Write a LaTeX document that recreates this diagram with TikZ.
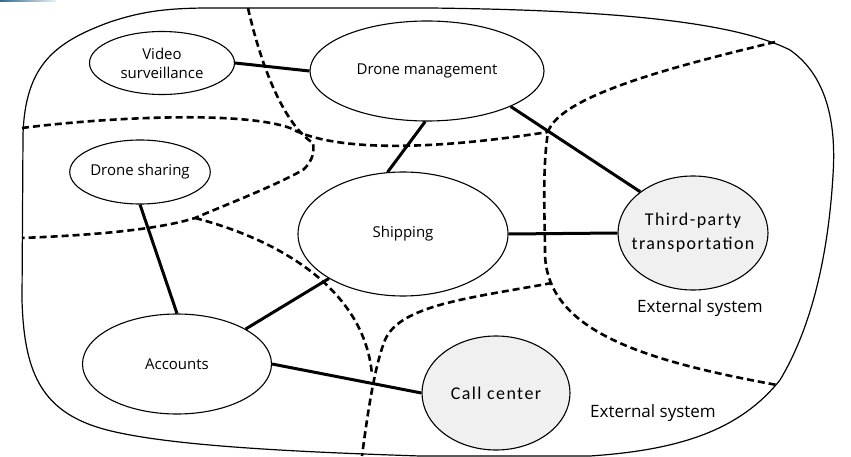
\documentclass[tikz,border=0pt]{standalone}
\usepackage{fontspec}
\setmainfont{Open Sans}
\newfontfamily\extfont[LetterSpace=8]{Carlito}
\usetikzlibrary{shapes.geometric}
\definecolor{extfill}{HTML}{F0F0F0}
\definecolor{barblue}{HTML}{2F6B8F}
\tikzset{
  svc/.style={draw, ellipse, line width=1.1pt, inner sep=0pt, align=center,
    font=\fontsize{15}{19}\selectfont},
  extsvc/.style={svc, fill=extfill},
  exttxt/.style={inner sep=0pt, align=center, font=\extfont\fontsize{18}{24}\selectfont},
  link/.style={line width=3pt},
  bound/.style={line width=2.6pt, dash pattern=on 7pt off 4pt},
  lbl/.style={inner sep=0pt, font=\fontsize{17}{20}\selectfont},
}
\begin{document}
\begin{tikzpicture}[x=1pt,y=-1pt]
\useasboundingbox (0,0) rectangle (851,457);
\shade[left color=barblue, right color=barblue!10] (0,0) rectangle (56,2);
% outer boundary
\draw[line width=1.2pt] (22,300) -- (23,135)
  .. controls (25,65) and (55,42) .. (110,22)
  .. controls (140,12) and (165,8) .. (210,8) -- (430,8)
  .. controls (600,10) and (730,20) .. (790,50)
  .. controls (830,78) and (836,130) .. (833,175)
  .. controls (828,260) and (810,330) .. (780,380)
  .. controls (740,430) and (680,450) .. (590,456) -- (420,456)
  .. controls (300,452) and (160,446) .. (100,428)
  .. controls (40,410) and (24,370) .. (22,300) -- cycle;
% boundaries
\draw[bound] (248,8) .. controls (262,70) and (285,125) .. (313,143)
  .. controls (314,150) and (314,160) .. (303,170)
  .. controls (270,188) and (230,203) .. (195,218)
  .. controls (150,232) and (70,236) .. (22,238);
\draw[bound] (22,128) .. controls (100,118) and (240,110) .. (290,128)
  .. controls (330,150) and (420,152) .. (548,132);
\draw[bound] (775,42) .. controls (680,65) and (560,95) .. (548,132)
  .. controls (542,170) and (545,220) .. (545,255)
  .. controls (548,330) and (640,360) .. (777,385);
\draw[bound] (552,283) .. controls (470,298) and (400,305) .. (385,340)
  .. controls (375,365) and (368,410) .. (362,456);
\draw[bound] (195,218) .. controls (280,240) and (365,290) .. (372,375);
% services
\node[svc, minimum width=145pt, minimum height=63pt] (vs) at (162,63) {Video\\surveillance};
\node[svc, minimum width=234pt, minimum height=100pt] (dm) at (427,71) {Drone management};
\node[svc, minimum width=126pt, minimum height=64pt] (ds) at (140,172) {Drone sharing};
\node[svc, fill=white, minimum width=210pt, minimum height=124pt] (sh) at (403,234) {Shipping};
\node[svc, fill=white, minimum width=189pt, minimum height=100pt] (ac) at (177,364) {Accounts};
\node[extsvc, minimum width=150pt, minimum height=114pt] (tp) at (693,233) {};
\node[exttxt] (tptext) at (tp) {Third-party\\transportation};
\node[extsvc, minimum width=148pt, minimum height=114pt] (cc) at (496,393) {};
\node[exttxt] (cctext) at (cc) {Call center};
\node[lbl] (ext1) at (700,308) {External system};
\node[lbl] (ext2) at (653,413) {External system};
% links
\draw[link] (vs.east) -- (dm.west);
\draw[link] (dm.-92) -- (sh.104);
\draw[link] (dm.-23) -- (tp.142);
\draw[link] (sh.east) -- (tp.west);
\draw[link] (ds.south) -- (ac.north);
\draw[link] (ac.27) -- (sh.211);
\draw[link] (ac.east) -- (cc.west);
\end{tikzpicture}
\end{document}
